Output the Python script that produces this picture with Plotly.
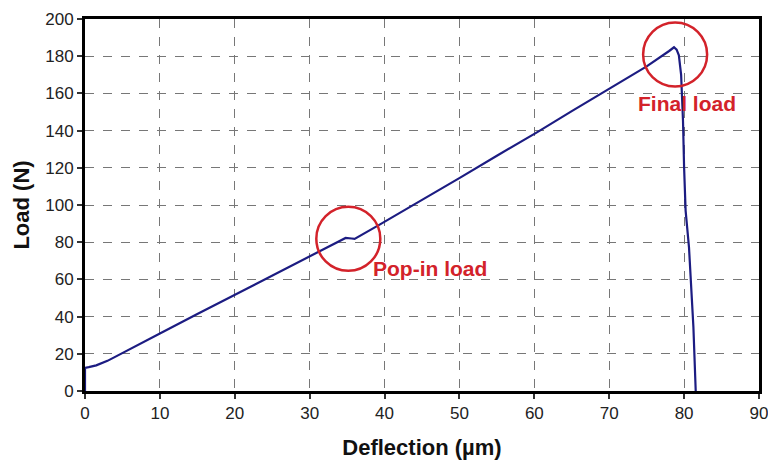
import plotly.graph_objects as go

deflection = [0, 0, 0.5, 1.5, 3, 5, 10, 15, 20, 25, 30, 34.0, 34.8, 35.6, 36.0, 39.4, 45, 50.1, 55, 60.4, 65, 70, 75, 78.0, 78.65,
              79.0, 79.3, 79.6, 79.85, 80.0, 80.2, 80.65, 80.97, 81.24, 81.55]
load = [0, 12.4, 12.8, 13.8, 16.2, 20.5, 30.9, 41.4, 51.8, 62.1, 72.4, 80.8, 82.3, 82.0, 81.8, 89.6, 102.5, 114.7, 126.5, 139.2, 150.5, 162.5, 174.5, 182.8, 184.8,
        183.5, 180.5, 170, 145.5, 120, 97, 77.4, 55.9, 34.4, 0]

x_ticks = [0, 10, 20, 30, 40, 50, 60, 70, 80, 90]
y_ticks = [0, 20, 40, 60, 80, 100, 120, 140, 160, 180, 200]

popin_center = (35.16, 81.8)
final_center = (78.8, 180.9)
popin_label = (46.1, 66.0, "Pop-in load")
final_label = (80.35, 154.7, "Final load")

red = "#d3222a"
FONT = "Liberation Sans, Arial, sans-serif"

fig = go.Figure()
fig.add_trace(go.Scatter(x=deflection, y=load, mode="lines",
                         line=dict(color="#1c1c82", width=2.2), showlegend=False,
                         hoverinfo="skip"))

for cx, cy in (popin_center, final_center):
    fig.add_shape(type="circle", xref="x", yref="y",
                  xsizemode="pixel", ysizemode="pixel",
                  xanchor=cx, yanchor=cy, x0=-32, x1=32, y0=-32, y1=32,
                  line=dict(color=red, width=2.5))

for lx, ly, txt in (popin_label, final_label):
    fig.add_annotation(x=lx, y=ly, xref="x", yref="y", text=f"<b>{txt}</b>",
                       showarrow=False, font=dict(family=FONT, size=21, color=red))

axis_common = dict(showline=True, linecolor="black", linewidth=3, mirror=True,
                   ticks="outside", ticklen=5, tickwidth=1.5, tickcolor="#333",
                   showgrid=True, gridcolor="#777", gridwidth=1.2, griddash="dash",
                   zeroline=False, automargin=False, ticklabeloverflow="allow",
                   tickfont=dict(family=FONT, size=17, color="#222"))

fig.update_xaxes(range=[0, 90], tickvals=x_ticks, **axis_common,
                 title=dict(text="<b>Deflection (µm)</b>", standoff=20,
                            font=dict(family=FONT, size=22, color="#111")))
fig.update_yaxes(range=[0, 200], tickvals=y_ticks, **axis_common,
                 title=dict(text="<b>Load (N)</b>", standoff=10,
                            font=dict(family=FONT, size=22, color="#111")))

fig.update_layout(width=768, height=460, margin=dict(l=85, r=9, t=19, b=69),
                  paper_bgcolor="white", plot_bgcolor="white")

fig.write_html("out.html")
